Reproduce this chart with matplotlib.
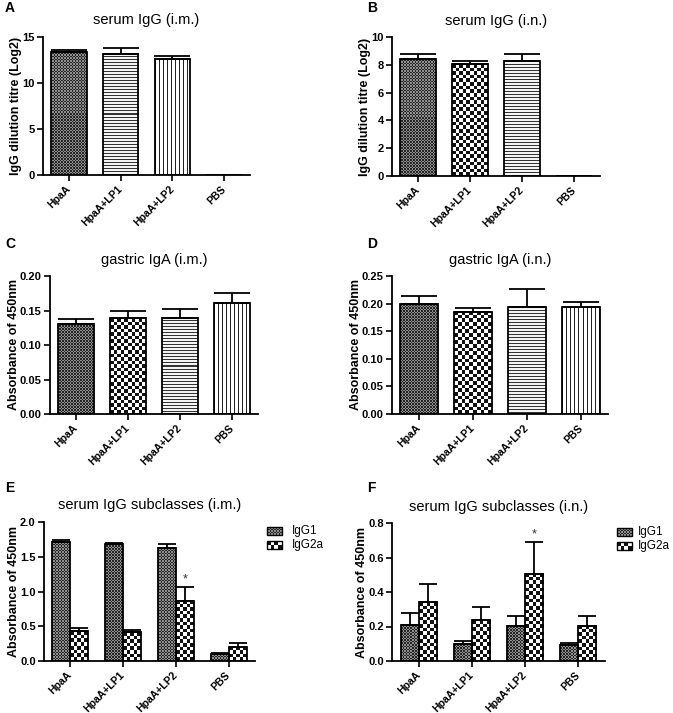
import numpy as np
import matplotlib
matplotlib.use("Agg")
import matplotlib.pyplot as plt
from matplotlib.colors import ListedColormap

plt.rcParams['font.family'] = ['Liberation Sans', 'DejaVu Sans']

groups = ["HpaA", "HpaA+LP1", "HpaA+LP2", "PBS"]

# Panel A: serum IgG (i.m.)
a_mean = [13.4, 13.2, 12.6, 0.0]
a_sem = [0.2, 0.6, 0.35, 0.0]
# Panel B: serum IgG (i.n.)
b_mean = [8.45, 8.05, 8.25, 0.0]
b_sem = [0.35, 0.22, 0.5, 0.0]
# Panel C: gastric IgA (i.m.)
c_mean = [0.130, 0.1385, 0.1395, 0.161]
c_sem = [0.007, 0.011, 0.012, 0.014]
# Panel D: gastric IgA (i.n.)
d_mean = [0.199, 0.185, 0.193, 0.194]
d_sem = [0.014, 0.007, 0.033, 0.009]
# Panel E: serum IgG subclasses (i.m.)
e_igg1 = [1.71, 1.68, 1.62, 0.096]
e_igg1_sem = [0.03, 0.02, 0.06, 0.014]
e_igg2a = [0.43, 0.415, 0.87, 0.20]
e_igg2a_sem = [0.04, 0.025, 0.20, 0.06]
# Panel F: serum IgG subclasses (i.n.)
f_igg1 = [0.21, 0.096, 0.202, 0.093]
f_igg1_sem = [0.07, 0.018, 0.056, 0.013]
f_igg2a = [0.341, 0.235, 0.507, 0.204]
f_igg2a_sem = [0.106, 0.077, 0.181, 0.054]

W, H = 673, 713
fig = plt.figure(figsize=(W / 100, H / 100), dpi=100)


def add_ax(left, right, top, bottom):
    return fig.add_axes([left / W, 1 - bottom / H, (right - left) / W, (bottom - top) / H])


def texture_array(kind, pw, ph):
    if kind == "dense":
        c = 1.5
        nx, ny = max(1, int(round(pw / c))), max(1, int(round(ph / c)))
        i, j = np.indices((ny, nx))
        arr = ((i + j) % 2).astype(float)
        cmap = ListedColormap(["#262626", "#8e8e8e"])
    elif kind == "checker":
        c = 3.6
        nx, ny = max(1, int(round(pw / c))), max(1, int(round(ph / c)))
        i, j = np.indices((ny, nx))
        arr = ((i + j) % 2).astype(float)
        cmap = ListedColormap(["#111111", "#ffffff"])
    elif kind == "hlines":
        ny = max(1, int(round(ph)))
        arr = (np.arange(ny) % 3 != 0).astype(float)[:, None]
        cmap = ListedColormap(["#333333", "#f4f4f4"])
    else:  # vlines
        nx = max(1, int(round(pw)))
        arr = (np.arange(nx) % 4 != 0).astype(float)[None, :]
        cmap = ListedColormap(["#222222", "#ffffff"])
    return arr, cmap


def fill_texture(ax, rect, kind):
    x0, y0 = rect.get_x(), rect.get_y()
    w, h = rect.get_width(), rect.get_height()
    if h <= 0:
        return
    p0 = ax.transData.transform((x0, y0))
    p1 = ax.transData.transform((x0 + w, y0 + h))
    pw, ph = abs(p1[0] - p0[0]), abs(p1[1] - p0[1])
    arr, cmap = texture_array(kind, pw, ph)
    ax.imshow(arr, extent=(x0, x0 + w, y0, y0 + h), cmap=cmap, vmin=0, vmax=1,
              interpolation="nearest", aspect="auto", zorder=1)


def style_axes(ax, ylim, yticks, yfmt, ylabel, title):
    ax.set_xlim(-0.5, 3.5)
    ax.set_ylim(*ylim)
    ax.set_yticks(yticks)
    ax.set_yticklabels([yfmt.format(t) for t in yticks], fontsize=8, fontweight="bold")
    ax.set_xticks(range(len(groups)))
    ax.set_xticklabels(groups, rotation=45, ha="right", va="center", rotation_mode="anchor",
                       fontsize=7.5, fontweight="bold")
    for s in ["top", "right"]:
        ax.spines[s].set_visible(False)
    for s in ["left", "bottom"]:
        ax.spines[s].set_linewidth(1.3)
    ax.tick_params(axis="both", direction="out", length=4, width=1.2, pad=2)
    ax.tick_params(axis="x", pad=5)
    ax.set_ylabel(ylabel, fontsize=9, fontweight="bold", labelpad=0)
    ax.set_title(title, fontsize=10.5, pad=9)


def single_panel(ax, means, sems, kinds, ylim, yticks, yfmt, ylabel, title, capsize):
    style_axes(ax, ylim, yticks, yfmt, ylabel, title)
    x = np.arange(len(groups))
    bars = ax.bar(x, means, width=0.69, facecolor="none", edgecolor="black",
                  linewidth=1.3, zorder=2)
    for r, k in zip(bars, kinds):
        fill_texture(ax, r, k)
    m = np.array(means)
    s = np.array(sems)
    mask = m > 0
    ax.errorbar(x[mask], m[mask], yerr=[np.zeros(mask.sum()), s[mask]], fmt="none",
                ecolor="black", elinewidth=1.3, capsize=capsize, capthick=1.3, zorder=3)
    ax.set_xlim(-0.5, 3.5)
    ax.set_ylim(*ylim)


def grouped_panel(ax, v1, s1, v2, s2, ylim, yticks, yfmt, ylabel, title, star_idx):
    style_axes(ax, ylim, yticks, yfmt, ylabel, title)
    x = np.arange(len(groups))
    bw = 0.34
    b1 = ax.bar(x - bw / 2, v1, width=bw, facecolor="none", edgecolor="black",
                linewidth=1.3, zorder=2)
    b2 = ax.bar(x + bw / 2, v2, width=bw, facecolor="none", edgecolor="black",
                linewidth=1.3, zorder=2)
    for r in b1:
        fill_texture(ax, r, "dense")
    for r in b2:
        fill_texture(ax, r, "checker")
    ax.errorbar(x - bw / 2, v1, yerr=[np.zeros(4), s1], fmt="none", ecolor="black",
                elinewidth=1.3, capsize=6.5, capthick=1.3, zorder=3)
    ax.errorbar(x + bw / 2, v2, yerr=[np.zeros(4), s2], fmt="none", ecolor="black",
                elinewidth=1.3, capsize=6.5, capthick=1.3, zorder=3)
    top = v2[star_idx] + s2[star_idx]
    ax.annotate("*", xy=(x[star_idx] + bw / 2, top), xytext=(0, 1),
                textcoords="offset points", ha="center", va="bottom", fontsize=9,
                color="#333333")
    ax.set_xlim(-0.5, 3.5)
    ax.set_ylim(*ylim)


def legend_box(left, top, gap):
    lax = fig.add_axes([0, 0, 1, 1], facecolor="none")
    lax.set_xlim(0, W)
    lax.set_ylim(H, 0)
    lax.axis("off")
    for k, (kind, lab) in enumerate([("dense", "IgG1"), ("checker", "IgG2a")]):
        y = top + k * 14
        arr, cmap = texture_array(kind, 15, 8)
        lax.imshow(arr, extent=(left, left + 15, y + 4, y - 4), cmap=cmap, vmin=0, vmax=1,
                   interpolation="nearest", aspect="auto")
        lax.add_patch(plt.Rectangle((left, y - 4), 15, 8, fill=False, edgecolor="black",
                                    linewidth=1.0))
        lax.text(left + gap, y, lab, fontsize=8.5, va="center", ha="left")
    lax.set_xlim(0, W)
    lax.set_ylim(H, 0)


axA = add_ax(43, 250, 37, 175)
single_panel(axA, a_mean, a_sem, ["dense", "hlines", "vlines", "vlines"], (0, 15),
             [0, 5, 10, 15], "{:g}", "IgG dilution titre (Log2)", "serum IgG (i.m.)", 13)

axB = add_ax(392, 600, 37, 176)
single_panel(axB, b_mean, b_sem, ["dense", "checker", "hlines", "vlines"], (0, 10),
             [0, 2, 4, 6, 8, 10], "{:g}", "IgG dilution titre (Log2)", "serum IgG (i.n.)", 13)

axC = add_ax(50, 258, 276, 414)
single_panel(axC, c_mean, c_sem, ["dense", "checker", "hlines", "vlines"], (0, 0.20),
             [0, 0.05, 0.10, 0.15, 0.20], "{:.2f}", "Absorbance of 450nm",
             "gastric IgA (i.m.)", 13)

axD = add_ax(392, 608, 276, 414)
single_panel(axD, d_mean, d_sem, ["dense", "checker", "hlines", "vlines"], (0, 0.25),
             [0, 0.05, 0.10, 0.15, 0.20, 0.25], "{:.2f}", "Absorbance of 450nm",
             "gastric IgA (i.n.)", 13)

axE = add_ax(44, 255, 522, 661)
grouped_panel(axE, e_igg1, e_igg1_sem, e_igg2a, e_igg2a_sem, (0, 2.0),
              [0, 0.5, 1.0, 1.5, 2.0], "{:.1f}", "Absorbance of 450nm",
              "serum IgG subclasses (i.m.)", 2)

axF = add_ax(392, 605, 523, 661)
grouped_panel(axF, f_igg1, f_igg1_sem, f_igg2a, f_igg2a_sem, (0, 0.8),
              [0, 0.2, 0.4, 0.6, 0.8], "{:.1f}", "Absorbance of 450nm",
              "serum IgG subclasses (i.n.)", 2)

legend_box(267, 531, 25)
legend_box(617, 532, 21)

for lab, (px, py) in zip("ABCDEF", [(5, 8), (367, 8), (5, 244), (367, 244), (5, 488), (367, 488)]):
    fig.text(px / W, 1 - py / H, lab, fontsize=10, fontweight="bold", ha="left", va="center")

fig.savefig("out.png", dpi=100)
